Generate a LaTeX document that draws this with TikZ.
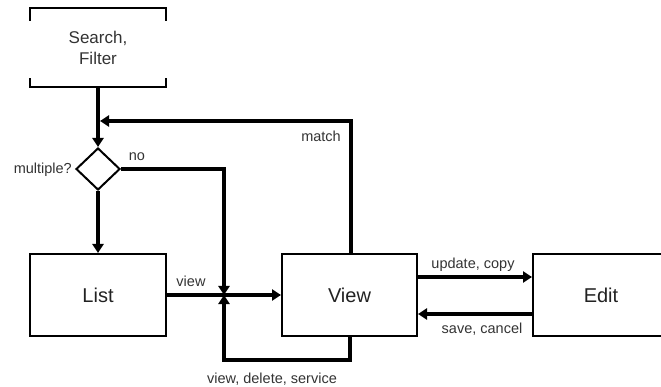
\documentclass[tikz,border=0pt]{standalone}
\usepackage{fontspec}
\setmainfont{Liberation Sans}
\usetikzlibrary{arrows.meta,shapes.geometric}
\definecolor{ink}{HTML}{222222}
\definecolor{lbl}{HTML}{333333}
\tikzset{
  box/.style={draw=black, line width=2pt, rectangle, minimum width=136pt, minimum height=82pt,
              inner sep=0pt, text=ink, font=\fontsize{20}{24}\selectfont},
  decision/.style={draw=black, line width=2pt, diamond, minimum width=44pt, minimum height=42pt,
              inner sep=0pt},
  flow/.style={line width=4pt, -{Triangle[length=9pt,width=11pt]}},
  bracket/.style={line width=2pt},
  lab/.style={text=lbl, font=\fontsize{14.5}{17}\selectfont, inner sep=0pt},
}
\begin{document}
\begin{tikzpicture}[x=1pt,y=-1pt]
\useasboundingbox (0,0) rectangle (661,387);
\clip (0,0) rectangle (661,387);

% nodes
\node[rectangle, minimum width=136pt, minimum height=79pt, inner sep=0pt, align=center,
      text=lbl, font=\fontsize{17}{21}\selectfont] (search) at (98,47.5) {Search,\\Filter};
\node[decision] (dec) at (98,169) {};
\node[box] (list) at (98,295) {List};
\node[box, minimum width=135pt] (view) at (349.5,295) {View};
\node[box] (edit) at (601,295) {Edit};

% bracket-style edges of the search step
\draw[bracket] (search.north west) ++(0,13) -- (search.north west) -- (search.north east) -- ++(0,13);
\draw[bracket] (search.south west) ++(0,-9) -- (search.south west) -- (search.south east) -- ++(0,-9);

% helper points
\coordinate (j) at (224,295);
\coordinate (mj) at (100,121);
\coordinate (mt) at (351,121);
\coordinate (nc) at (224,169);
\coordinate (lb) at (224,360);
\coordinate (lv) at (349.5,360);

% connectors
\draw[flow] (search.south) -- (dec.north);
\draw[flow] (dec.south) -- (list.north);
\draw[flow] (list.east) -- (view.west);
\draw[flow] (dec.east) -- (nc) -- (j);
\draw[flow] (view.south) -- (lv) -- (lb) -- (j);
\draw[flow] (view.north -| mt) -- (mt) -- (mj);
\draw[flow] ([yshift=18pt]view.east) -- ([yshift=18pt]edit.west);
\draw[flow] ([yshift=-19pt]edit.west) -- ([yshift=-19pt]view.east);

% labels
\node[lab, anchor=east] (lmul) at (72,170) {multiple?};
\node[lab] (lno) at (137,157) {no};
\node[lab] (lview) at (191,281) {view};
\node[lab] (lmatch) at (321,136) {match};
\node[lab] (lvds) at (272,379) {view, delete, service};
\node[lab] (lupd) at (473,265) {update, copy};
\node[lab] (lsave) at (482,329) {save, cancel};
\end{tikzpicture}
\end{document}
